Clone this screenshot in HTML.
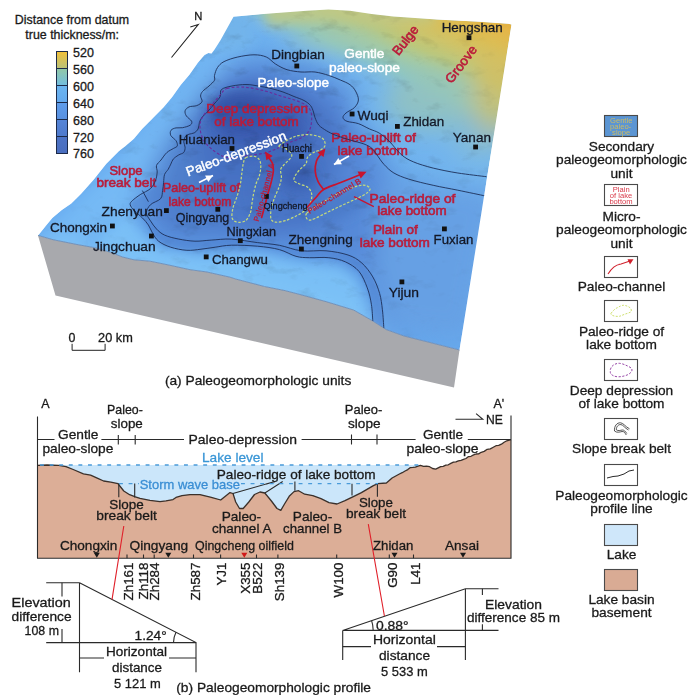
<!DOCTYPE html>
<html><head><meta charset="utf-8">
<style>
html,body{margin:0;padding:0;background:#fff;}
body{width:692px;height:698px;overflow:hidden;position:relative;}
svg{position:absolute;left:0;top:0;}
text{font-family:"Liberation Sans",sans-serif;stroke-width:0.3px;}
</style></head><body>
<svg width="692" height="698" viewBox="0 0 692 698">
<defs>
<linearGradient id="cb1" x1="0" y1="0" x2="0" y2="1"><stop offset="0" stop-color="#f2c13a"/><stop offset="1" stop-color="#b9c27a"/></linearGradient>
<linearGradient id="cb2" x1="0" y1="0" x2="0" y2="1"><stop offset="0" stop-color="#93c8a6"/><stop offset="1" stop-color="#72bde0"/></linearGradient>
<linearGradient id="cb3" x1="0" y1="0" x2="0" y2="1"><stop offset="0" stop-color="#6cb5f0"/><stop offset="1" stop-color="#64a9ee"/></linearGradient>
<linearGradient id="cb4" x1="0" y1="0" x2="0" y2="1"><stop offset="0" stop-color="#5f9deb"/><stop offset="1" stop-color="#5890e0"/></linearGradient>
<linearGradient id="cb5" x1="0" y1="0" x2="0" y2="1"><stop offset="0" stop-color="#5585d8"/><stop offset="1" stop-color="#4f7acc"/></linearGradient>
<linearGradient id="cb6" x1="0" y1="0" x2="0" y2="1"><stop offset="0" stop-color="#4d74c6"/><stop offset="1" stop-color="#4a6ebf"/></linearGradient>
</defs>

<!-- ===== top-left legend ===== -->
<g font-size="12.4" fill="#1a1a1a" stroke="#1a1a1a" text-anchor="middle">
<text x="72" y="24">Distance from datum</text>
<text x="72.2" y="39.4">true thickness/m:</text>
</g>
<g>
<rect x="56.5" y="51.5" width="11" height="17" fill="url(#cb1)"/>
<rect x="56.5" y="68.5" width="11" height="17" fill="url(#cb2)"/>
<rect x="56.5" y="85.5" width="11" height="17" fill="url(#cb3)"/>
<rect x="56.5" y="102.5" width="11" height="17" fill="url(#cb4)"/>
<rect x="56.5" y="119.5" width="11" height="17" fill="url(#cb5)"/>
<rect x="56.5" y="136.5" width="11" height="17" fill="url(#cb6)"/>
<g stroke="#1c2a48" stroke-width="1" fill="none">
<rect x="56.5" y="51.5" width="11" height="102"/>
<path d="M56.5 68.5h11M56.5 85.5h11M56.5 102.5h11M56.5 119.5h11M56.5 136.5h11"/>
</g>
</g>
<g font-size="12.5" fill="#1a1a1a" stroke="#1a1a1a">
<text x="73" y="56.6">520</text>
<text x="73" y="73.6">560</text>
<text x="73" y="90.6">600</text>
<text x="73" y="107.6">640</text>
<text x="73" y="124.6">680</text>
<text x="73" y="141.6">720</text>
<text x="73" y="158.4">760</text>
</g>

<!-- MAP -->
<g id="map">
<defs>
<clipPath id="tclip"><path d="M233.5 16.8 L263.3 13.9 L306.7 10.8 L328.4 9.6 L350.0 10.8 L371.7 13.9 L393.4 16.5 L436.7 19.5 L480.0 21.7 L508.3 23.8 L511.5 24.6 L459.5 350.0 L430.0 342.5 L404.0 336.0 L386.0 329.5 L383.8 328.0 L372.8 321.0 L353.6 310.0 L326.0 301.6 L300.0 294.5 L285.0 290.6 L264.5 286.5 L235.6 279.0 L230.0 277.2 L207.0 272.0 L190.0 269.7 L168.7 265.0 L150.0 261.2 L134.0 259.8 L122.5 257.0 L111.0 252.4 L94.7 247.7 L76.0 244.3 L53.0 239.7 L38.0 235.4 L39.5 233.8 L45.9 225.8 L52.3 217.9 L61.8 210.0 L71.3 203.6 L80.9 194.0 L93.6 179.7 L106.3 163.8 L119.0 151.1 L125.5 146.0 L133.9 138.8 L142.5 128.4 L153.0 118.0 L163.4 107.6 L172.0 97.2 L180.7 85.1 L189.4 74.7 L198.0 62.5 L204.5 55.0 L208.4 53.0 L211.5 53.6 L214.5 49.5 L220.6 40.0Z"/></clipPath>
<filter id="b12" x="-50%" y="-50%" width="200%" height="200%"><feGaussianBlur stdDeviation="12"/></filter>
<filter id="b6" x="-50%" y="-50%" width="200%" height="200%"><feGaussianBlur stdDeviation="6"/></filter>
<filter id="b3" x="-50%" y="-50%" width="200%" height="200%"><feGaussianBlur stdDeviation="3"/></filter>
<filter id="b1" x="-50%" y="-50%" width="200%" height="200%"><feGaussianBlur stdDeviation="1.2"/></filter>
<filter id="noise" x="0" y="0" width="100%" height="100%"><feTurbulence type="fractalNoise" baseFrequency="0.05 0.09" numOctaves="4" seed="7"/><feColorMatrix type="matrix" values="0.9 0 0 0 0.6  0.9 0 0 0 0.6  0.9 0 0 0 0.6  0 0 0 0 1"/></filter>
<radialGradient id="nmg" gradientUnits="userSpaceOnUse" cx="290" cy="130" r="240"><stop offset="0" stop-color="#fff"/><stop offset="0.55" stop-color="#bbb"/><stop offset="1" stop-color="#333"/></radialGradient>
<mask id="nmask" maskUnits="userSpaceOnUse" x="0" y="0" width="692" height="400"><rect x="0" y="0" width="692" height="400" fill="url(#nmg)"/></mask>
</defs>
<path d="M38.0 235.4 L38.0 235.4 L53.0 239.7 L76.0 244.3 L94.7 247.7 L111.0 252.4 L122.5 257.0 L134.0 259.8 L150.0 261.2 L168.7 265.0 L190.0 269.7 L207.0 272.0 L230.0 277.2 L235.6 279.0 L264.5 286.5 L285.0 290.6 L300.0 294.5 L326.0 301.6 L353.6 310.0 L372.8 321.0 L383.8 328.0 L386.0 329.5 L404.0 336.0 L430.0 342.5 L459.5 350.0 L454.0 387.5 L55.5 295.5Z" fill="#a8a9ad"/>
<defs><linearGradient id="tg" gradientUnits="userSpaceOnUse" x1="250" y1="250" x2="500" y2="0"><stop offset="0" stop-color="#62a4ec"/><stop offset="0.35" stop-color="#6aaeef"/><stop offset="0.6" stop-color="#74b6ee"/><stop offset="1" stop-color="#7cbce8"/></linearGradient><linearGradient id="yg" gradientUnits="userSpaceOnUse" x1="452" y1="122" x2="505.3" y2="3.7"><stop offset="0" stop-color="#7cbae4" stop-opacity="0"/><stop offset="0.077" stop-color="#80bce0" stop-opacity="0.6"/><stop offset="0.177" stop-color="#8cc6c8"/><stop offset="0.308" stop-color="#a4caa4"/><stop offset="0.415" stop-color="#bcc87c"/><stop offset="0.538" stop-color="#cec46a"/><stop offset="0.677" stop-color="#dcbe54"/><stop offset="0.869" stop-color="#e8b444"/><stop offset="1" stop-color="#ecae3c"/></linearGradient></defs>
<g clip-path="url(#tclip)">
<path d="M233.5 16.8 L263.3 13.9 L306.7 10.8 L328.4 9.6 L350.0 10.8 L371.7 13.9 L393.4 16.5 L436.7 19.5 L480.0 21.7 L508.3 23.8 L511.5 24.6 L459.5 350.0 L430.0 342.5 L404.0 336.0 L386.0 329.5 L383.8 328.0 L372.8 321.0 L353.6 310.0 L326.0 301.6 L300.0 294.5 L285.0 290.6 L264.5 286.5 L235.6 279.0 L230.0 277.2 L207.0 272.0 L190.0 269.7 L168.7 265.0 L150.0 261.2 L134.0 259.8 L122.5 257.0 L111.0 252.4 L94.7 247.7 L76.0 244.3 L53.0 239.7 L38.0 235.4 L39.5 233.8 L45.9 225.8 L52.3 217.9 L61.8 210.0 L71.3 203.6 L80.9 194.0 L93.6 179.7 L106.3 163.8 L119.0 151.1 L125.5 146.0 L133.9 138.8 L142.5 128.4 L153.0 118.0 L163.4 107.6 L172.0 97.2 L180.7 85.1 L189.4 74.7 L198.0 62.5 L204.5 55.0 L208.4 53.0 L211.5 53.6 L214.5 49.5 L220.6 40.0Z" fill="url(#tg)"/>
<path d="M233.5 16.8 L263.3 13.9 L306.7 10.8 L328.4 9.6 L350.0 10.8 L371.7 13.9 L393.4 16.5 L436.7 19.5 L480.0 21.7 L508.3 23.8 L511.5 24.6 L459.5 350.0 L430.0 342.5 L404.0 336.0 L386.0 329.5 L383.8 328.0 L372.8 321.0 L353.6 310.0 L326.0 301.6 L300.0 294.5 L285.0 290.6 L264.5 286.5 L235.6 279.0 L230.0 277.2 L207.0 272.0 L190.0 269.7 L168.7 265.0 L150.0 261.2 L134.0 259.8 L122.5 257.0 L111.0 252.4 L94.7 247.7 L76.0 244.3 L53.0 239.7 L38.0 235.4 L39.5 233.8 L45.9 225.8 L52.3 217.9 L61.8 210.0 L71.3 203.6 L80.9 194.0 L93.6 179.7 L106.3 163.8 L119.0 151.1 L125.5 146.0 L133.9 138.8 L142.5 128.4 L153.0 118.0 L163.4 107.6 L172.0 97.2 L180.7 85.1 L189.4 74.7 L198.0 62.5 L204.5 55.0 L208.4 53.0 L211.5 53.6 L214.5 49.5 L220.6 40.0Z" fill="url(#yg)"/>
<g filter="url(#b12)">
<path d="M20 250 L110 160 L190 70 L230 20 L250 40 L210 100 L170 160 L140 220 L60 250Z" fill="#78bcf6" opacity="0.9"/>
<ellipse cx="432" cy="100" rx="48" ry="30" fill="#98c4b6" opacity="0.75"/>
<ellipse cx="494" cy="92" rx="22" ry="45" fill="#d4bc60" opacity="0.7"/>
<ellipse cx="480" cy="140" rx="25" ry="14" fill="#96c2bc" opacity="0.6"/>
<ellipse cx="340" cy="36" rx="50" ry="10" fill="#a4c8a8" opacity="0.7"/>
<path d="M40 238 L140 256 L240 276 L330 298 L375 318 L380 345 L40 300Z" fill="#82c6f8"/>
<path d="M135 205 L160 150 L200 95 L230 60 L270 58 L320 74 L355 90 L350 118 L375 140 L390 175 L480 195 L470 340 L380 330 L365 275 L330 258 L240 246 L160 246Z" fill="#5689d8"/>
<path d="M380 180 L500 190 L470 340 L390 330 L375 260Z" fill="#66a0e4"/>
<path d="M170 150 L205 100 L250 82 L300 90 L335 110 L350 140 L335 175 L330 225 L280 235 L210 230 L160 215Z" fill="#4874c6"/>
<ellipse cx="258" cy="118" rx="52" ry="32" fill="#3a5ab0"/>
<ellipse cx="235" cy="165" rx="45" ry="18" fill="#4470c2"/>
<ellipse cx="300" cy="185" rx="28" ry="30" fill="#4672c4"/>
<ellipse cx="195" cy="218" rx="32" ry="18" fill="#4e7ecc"/>
<ellipse cx="185" cy="175" rx="14" ry="30" fill="#5080cc"/>
</g>
<g filter="url(#b6)">
<path d="M262 4 L330 0 L400 6 L440 12 L432 24 L380 24 L330 21 L290 24 L268 26Z" fill="#bec886" opacity="0.85"/>
<path d="M100 238 L125 215 L140 228 L160 250 L200 256 L260 252 L300 262 L340 266 L356 278 L364 300 L368 330 L300 300 L200 280 L100 258Z" fill="#7ec4f8" opacity="0.8"/>
<ellipse cx="240" cy="112" rx="30" ry="18" fill="#3454a8"/>
<ellipse cx="288" cy="135" rx="15" ry="11" fill="#3a5cb0"/>
<ellipse cx="300" cy="72" rx="25" ry="8" fill="#5a92dc" opacity="0.6"/>
<ellipse cx="232" cy="32" rx="22" ry="18" fill="#72b4ea"/>
<ellipse cx="298" cy="176" rx="18" ry="14" fill="#3a60b2"/>
<ellipse cx="278" cy="162" rx="10" ry="12" fill="#4068b8"/>
<ellipse cx="262" cy="190" rx="9" ry="22" fill="#4470c0"/>
<ellipse cx="340" cy="205" rx="30" ry="12" fill="#4c7cca" transform="rotate(-25 340 205)"/>
</g>
<rect x="30" y="0" width="490" height="360" filter="url(#noise)" style="mix-blend-mode:multiply" opacity="0.9" mask="url(#nmask)"/>
</g>
<path d="M459.5 350.0 L430.0 342.5 L404.0 336.0 L386.0 329.5 L383.8 328.0 L372.8 321.0 L353.6 310.0 L326.0 301.6 L300.0 294.5 L285.0 290.6 L264.5 286.5 L235.6 279.0 L230.0 277.2 L207.0 272.0 L190.0 269.7 L168.7 265.0 L150.0 261.2 L134.0 259.8 L122.5 257.0 L111.0 252.4 L94.7 247.7 L76.0 244.3 L53.0 239.7 L38.0 235.4" fill="none" stroke="#6a8ab4" stroke-width="0.9"/>
<text x="206.2" y="113.0" font-size="13.4" fill="#ba1c3a" stroke="#ba1c3a" style="stroke-width:0.60px" textLength="101.7" lengthAdjust="spacingAndGlyphs">Deep depression</text>
<text x="214.3" y="126.1" font-size="13.4" fill="#ba1c3a" stroke="#ba1c3a" style="stroke-width:0.60px" textLength="84.4" lengthAdjust="spacingAndGlyphs">of lake bottom</text>
<text x="109.4" y="175.1" font-size="13.4" fill="#ba1c3a" stroke="#ba1c3a" style="stroke-width:0.60px" textLength="33.2" lengthAdjust="spacingAndGlyphs">Slope</text>
<text x="96.4" y="187.1" font-size="13.4" fill="#ba1c3a" stroke="#ba1c3a" style="stroke-width:0.60px" textLength="59.8" lengthAdjust="spacingAndGlyphs">break belt</text>
<text x="162.8" y="191.5" font-size="13.4" fill="#ba1c3a" stroke="#ba1c3a" style="stroke-width:0.60px" textLength="77.2" lengthAdjust="spacingAndGlyphs">Paleo-uplift of</text>
<text x="168.6" y="205.9" font-size="13.4" fill="#ba1c3a" stroke="#ba1c3a" style="stroke-width:0.60px" textLength="62.7" lengthAdjust="spacingAndGlyphs">lake bottom</text>
<text x="331.2" y="142.1" font-size="13.4" fill="#ba1c3a" stroke="#ba1c3a" style="stroke-width:0.60px" textLength="84.8" lengthAdjust="spacingAndGlyphs">Paleo-uplift of</text>
<text x="337.4" y="155.1" font-size="13.4" fill="#ba1c3a" stroke="#ba1c3a" style="stroke-width:0.60px" textLength="70.6" lengthAdjust="spacingAndGlyphs">lake bottom</text>
<text x="369.6" y="202.6" font-size="13.4" fill="#ba1c3a" stroke="#ba1c3a" style="stroke-width:0.60px" textLength="85.8" lengthAdjust="spacingAndGlyphs">Paleo-ridge of</text>
<text x="377.3" y="215.3" font-size="13.4" fill="#ba1c3a" stroke="#ba1c3a" style="stroke-width:0.60px" textLength="69.4" lengthAdjust="spacingAndGlyphs">lake bottom</text>
<text x="372.9" y="233.9" font-size="13.4" fill="#ba1c3a" stroke="#ba1c3a" style="stroke-width:0.60px" textLength="44.9" lengthAdjust="spacingAndGlyphs">Plain of</text>
<text x="359.7" y="247.3" font-size="13.4" fill="#ba1c3a" stroke="#ba1c3a" style="stroke-width:0.60px" textLength="70.2" lengthAdjust="spacingAndGlyphs">lake bottom</text>
<text transform="translate(405.2 40.2) rotate(-51.8) translate(0 4.7)" font-size="13.2" fill="#ba1c3a" stroke="#ba1c3a" style="stroke-width:0.60px" text-anchor="middle">Bulge</text>
<text transform="translate(460.9 64.1) rotate(-52.9) translate(0 4.7)" font-size="13.2" fill="#ba1c3a" stroke="#ba1c3a" style="stroke-width:0.60px" text-anchor="middle">Groove</text>
<g clip-path="url(#tclip)">
<path d="M372.8 321.0 L371.4 304.3 L367.3 287.9 L359.0 271.4 L345.3 261.8 L328.8 257.7 L309.6 257.7 L296.0 256.3 L279.4 249.6 L257.5 246.2 L231.4 245.2 L215.2 247.2 L201.0 249.2 L186.9 250.3 L170.7 247.2 L158.6 241.2 L152.5 233.0 L148.4 225.0 L142.4 217.9 L134.3 210.8 L130.2 204.7 L132.3 200.7 L163.6 182.5 L162.6 190.6 L160.6 198.7 L150.5 204.7 L146.4 212.8 L150.5 220.9 L156.5 229.0 L164.6 235.1 L178.8 239.1 L195.0 241.2 L211.2 240.1 L231.4 239.1 L257.5 242.6 L279.4 245.3 L301.4 250.8 L326.0 250.8 L348.0 255.0 L361.8 263.0 L372.8 276.9 L379.6 293.4 L382.4 309.8 L383.8 328.0Z" fill="#4f82d0" opacity="0.55" filter="url(#b1)"/>
<path d="M372.8 321.0 C372.6 318.2,372.3 309.8,371.4 304.3 C370.5 298.8,369.4 293.4,367.3 287.9 C365.2 282.4,362.7 275.8,359.0 271.4 C355.3 267.0,350.3 264.1,345.3 261.8 C340.3 259.5,334.8 258.4,328.8 257.7 C322.9 257.0,315.1 257.9,309.6 257.7 C304.1 257.5,301.0 257.7,296.0 256.3 C291.0 255.0,285.8 251.3,279.4 249.6 C273.0 247.9,265.5 246.9,257.5 246.2 C249.5 245.5,238.5 245.0,231.4 245.2 C224.3 245.4,220.3 246.5,215.2 247.2 C210.1 247.9,205.7 248.7,201.0 249.2 C196.3 249.7,192.0 250.6,186.9 250.3 C181.8 250.0,175.4 248.7,170.7 247.2 C166.0 245.7,161.6 243.6,158.6 241.2 C155.6 238.8,154.2 235.7,152.5 233.0 C150.8 230.3,150.1 227.5,148.4 225.0 C146.7 222.5,144.8 220.3,142.4 217.9 C140.1 215.5,136.3 213.0,134.3 210.8 C132.3 208.6,130.5 206.4,130.2 204.7 C129.9 203.0,130.6 202.4,132.3 200.7 C134.0 199.0,137.3 196.6,140.3 194.6 C143.3 192.6,148.0 190.9,150.5 188.6 C153.0 186.2,154.4 183.3,155.5 180.5 C156.6 177.7,157.0 174.5,157.2 172.0 C157.4 169.5,155.9 167.5,156.5 165.5 C157.1 163.5,159.3 162.2,161.0 160.0 C162.7 157.8,164.8 154.4,166.9 152.5 C169.0 150.6,171.7 149.6,173.4 148.5 C175.1 147.4,176.9 147.2,177.3 145.9 C177.7 144.6,177.1 142.4,176.0 140.7 C174.9 139.0,171.6 137.2,170.8 135.5 C170.0 133.8,170.1 131.6,171.0 130.3 C171.9 129.0,174.1 128.3,176.0 127.9 C177.9 127.5,180.1 128.2,182.5 127.7 C184.9 127.2,188.8 126.2,190.3 125.1 C191.8 124.0,192.2 122.7,191.6 121.2 C190.9 119.7,187.5 117.7,186.4 116.0 C185.3 114.3,184.7 112.3,185.1 110.8 C185.5 109.3,187.1 107.8,189.0 106.9 C190.9 106.0,194.6 106.5,196.8 105.6 C199.0 104.7,201.4 103.3,202.0 101.7 C202.6 100.1,200.5 97.7,200.6 96.0 C200.7 94.3,201.1 93.2,202.5 91.5 C203.9 89.8,207.0 87.9,209.0 86.0 C211.0 84.1,213.6 82.0,214.5 80.3 C215.4 78.5,214.0 77.6,214.5 75.5 C215.0 73.4,215.9 69.8,217.5 67.5 C219.1 65.2,220.6 63.4,224.0 61.6 C227.4 59.9,232.8 58.1,237.8 57.0 C242.8 55.9,249.2 54.8,254.0 54.8 C258.8 54.8,262.7 55.5,266.3 57.0 C269.9 58.5,272.1 61.9,275.5 64.0 C278.9 66.1,282.8 68.4,287.0 69.7 C291.2 71.0,296.3 71.6,301.0 72.0 C305.7 72.4,310.4 71.4,315.0 72.0 C319.6 72.6,324.5 74.1,328.7 75.4 C332.9 76.7,336.8 78.5,340.3 80.0 C343.9 81.5,347.5 82.9,350.0 84.7 C352.5 86.5,354.1 88.5,355.5 91.0 C356.9 93.5,358.6 97.2,358.4 100.0 C358.2 102.8,356.6 105.3,354.5 107.5 C352.4 109.7,347.9 111.3,346.0 113.0 C344.1 114.7,342.8 116.2,343.0 117.6 C343.2 119.0,344.4 120.3,347.0 121.3 C349.6 122.3,354.5 122.3,358.3 123.6 C362.1 124.9,366.1 127.4,369.6 129.0 C373.1 130.6,375.9 131.0,379.1 133.0 C382.3 135.0,385.3 137.4,389.0 141.0 C392.7 144.6,397.2 151.1,401.3 154.6 C405.4 158.1,408.2 159.7,413.5 161.9 C418.8 164.2,425.8 166.2,433.2 168.1 C440.6 169.9,448.9 171.6,457.8 173.0 C466.7 174.4,481.7 176.1,486.5 176.7" fill="none" stroke="#1d2f58" stroke-width="0.9"/>
<path d="M383.8 328.0 C383.6 325.0,383.1 315.6,382.4 309.8 C381.7 304.0,381.2 298.9,379.6 293.4 C378.0 287.9,375.8 282.0,372.8 276.9 C369.8 271.8,365.9 266.6,361.8 263.0 C357.7 259.4,354.0 257.0,348.0 255.0 C342.0 253.0,333.8 251.5,326.0 250.8 C318.2 250.1,309.2 251.7,301.4 250.8 C293.6 249.9,286.7 246.7,279.4 245.3 C272.1 243.9,265.5 243.6,257.5 242.6 C249.5 241.6,239.1 239.5,231.4 239.1 C223.7 238.7,217.3 239.8,211.2 240.1 C205.1 240.4,200.4 241.4,195.0 241.2 C189.6 241.0,183.9 240.1,178.8 239.1 C173.7 238.1,168.3 236.8,164.6 235.1 C160.9 233.4,158.8 231.4,156.5 229.0 C154.2 226.6,152.2 223.6,150.5 220.9 C148.8 218.2,146.4 215.5,146.4 212.8 C146.4 210.1,148.1 207.0,150.5 204.7 C152.9 202.3,158.6 201.0,160.6 198.7 C162.6 196.3,162.1 193.3,162.6 190.6 C163.1 187.9,163.3 185.2,163.6 182.5 C163.9 179.8,163.8 176.6,164.6 174.4 C165.4 172.2,167.2 171.0,168.2 169.3 C169.2 167.6,169.9 165.8,170.8 164.1 C171.7 162.4,172.1 160.4,173.4 158.9 C174.7 157.4,176.9 156.1,178.6 155.0 C180.3 153.9,182.7 153.7,183.8 152.4 C184.9 151.1,185.1 148.9,185.1 147.2 C185.1 145.5,183.8 143.7,183.8 142.0 C183.8 140.3,184.2 138.1,185.1 136.8 C186.0 135.5,187.5 134.8,189.0 134.2 C190.5 133.5,192.7 133.8,194.2 132.9 C195.7 132.0,197.2 130.7,198.1 129.0 C199.0 127.3,198.8 124.5,199.4 122.5 C200.1 120.5,200.7 119.0,202.0 117.3 C203.3 115.6,205.0 114.5,207.2 112.1 C209.4 109.7,212.8 105.6,215.0 103.0 C217.2 100.4,219.1 98.8,220.2 96.5 C221.3 94.2,219.5 91.2,221.5 89.5 C223.5 87.8,227.9 86.8,232.0 86.0 C236.1 85.2,241.7 84.5,246.0 84.5 C250.3 84.5,253.8 85.3,258.0 86.0 C262.2 86.7,266.8 87.5,271.0 88.5 C275.2 89.5,279.2 90.7,283.0 92.0 C286.8 93.3,290.5 95.1,294.0 96.5 C297.5 97.9,301.2 99.0,304.0 100.5 C306.8 102.0,308.9 103.6,310.5 105.5 C312.1 107.4,312.8 110.0,313.5 112.0 C314.2 114.0,314.1 115.4,315.0 117.6 C315.9 119.8,316.9 122.9,318.8 125.1 C320.7 127.3,323.7 129.0,326.4 130.7 C329.1 132.3,331.1 133.4,335.0 135.0 C338.9 136.6,345.2 138.5,350.0 140.0 C354.8 141.5,360.3 142.6,364.0 144.0 C367.7 145.4,369.9 146.7,372.0 148.5 C374.1 150.3,374.7 151.9,376.7 154.6 C378.7 157.2,381.1 161.3,384.0 164.4 C386.9 167.5,389.8 170.6,393.9 173.0 C398.0 175.4,402.1 177.0,408.6 179.1 C415.2 181.2,425.0 183.5,433.2 185.3 C441.4 187.2,449.1 188.4,457.8 190.2 C466.5 192.0,480.9 195.0,485.5 196.0" fill="none" stroke="#1d2f58" stroke-width="0.9"/>
</g>
<path d="M354 196.6L373.8 206.6" stroke="#c8142e" stroke-width="1.2"/>
<path d="M142.4 190.6L148.4 201.7" stroke="#1d2f58" stroke-width="0.9"/>
<path d="M227.0 88.5 C231.1 87.2,238.7 86.8,245.0 87.2 C251.3 87.6,259.3 89.6,265.0 91.0 C270.7 92.4,274.3 94.1,279.0 95.5 C283.7 96.9,288.6 98.0,293.0 99.5 C297.4 101.0,302.5 102.7,305.5 104.8 C308.5 106.9,310.0 109.2,311.0 112.0 C312.0 114.8,311.8 118.5,311.5 121.7 C311.2 124.9,310.8 128.3,309.0 131.0 C307.2 133.7,304.3 136.0,301.0 137.9 C297.7 139.8,293.2 140.8,289.4 142.5 C285.6 144.2,282.1 146.2,278.0 148.0 C273.9 149.8,270.0 151.8,265.0 153.0 C260.0 154.2,253.3 154.7,248.0 155.5 C242.7 156.3,237.2 157.9,233.0 158.0 C228.8 158.1,226.4 157.8,222.8 156.3 C219.2 154.8,214.8 151.7,211.6 149.0 C208.4 146.3,205.4 143.6,203.5 140.0 C201.6 136.4,200.2 131.4,200.0 127.7 C199.8 124.0,200.2 121.6,202.0 118.0 C203.8 114.4,208.0 109.8,211.0 106.0 C214.0 102.2,217.5 97.9,220.2 95.0 C222.9 92.1,222.9 89.8,227.0 88.5Z" fill="none" stroke="#6a2c9a" stroke-width="1.1" stroke-dasharray="2.8 2"/>
<path d="M245.7 157.8 C247.4 156.6,251.3 155.9,253.6 156.2 C255.8 156.5,258.0 157.7,259.2 159.4 C260.4 161.1,260.8 163.8,260.8 166.6 C260.8 169.4,260.0 173.2,259.2 176.1 C258.4 179.0,256.9 181.1,256.0 184.0 C255.1 186.9,254.3 190.4,253.6 193.6 C252.9 196.8,252.5 199.9,252.0 203.1 C251.5 206.3,251.5 209.8,250.4 212.7 C249.3 215.6,247.8 219.0,245.7 220.6 C243.6 222.2,239.9 222.6,237.7 222.2 C235.4 221.8,233.0 220.6,232.2 218.2 C231.4 215.8,232.2 211.5,233.0 207.9 C233.8 204.3,235.7 200.5,236.9 196.8 C238.1 193.1,239.3 189.3,240.1 185.6 C240.9 181.9,241.2 178.2,241.7 174.5 C242.2 170.8,242.6 166.2,243.3 163.4 C244.0 160.6,244.0 159.0,245.7 157.8Z" fill="none" stroke="#c6dc7a" stroke-width="1.2" stroke-dasharray="2.6 1.6"/>
<path d="M279.0 145.9 C279.8 144.6,285.4 141.2,288.6 139.5 C291.8 137.8,294.4 136.4,298.1 135.6 C301.8 134.8,306.9 134.4,310.9 134.8 C314.9 135.2,319.6 136.4,322.0 138.0 C324.4 139.6,325.2 142.5,325.2 144.3 C325.2 146.2,323.9 147.8,322.0 149.1 C320.1 150.4,316.4 151.0,314.0 152.3 C311.6 153.6,309.0 155.2,307.7 157.0 C306.4 158.8,307.4 161.3,306.1 163.4 C304.8 165.5,301.6 167.6,299.7 169.7 C297.8 171.8,295.9 174.2,295.0 176.1 C294.1 178.0,293.4 179.6,294.2 180.9 C295.0 182.2,297.4 182.9,299.7 184.0 C301.9 185.1,305.7 185.6,307.7 187.2 C309.7 188.8,311.1 191.2,311.6 193.6 C312.1 196.0,311.8 198.8,310.9 201.5 C310.0 204.2,308.5 207.1,306.1 209.5 C303.7 211.9,299.9 214.0,296.5 215.8 C293.1 217.7,288.8 219.5,285.4 220.6 C282.0 221.7,278.3 222.5,275.9 222.2 C273.5 221.9,271.9 221.1,271.1 219.0 C270.3 216.9,270.6 212.9,271.1 209.5 C271.6 206.1,273.0 202.1,274.3 198.4 C275.6 194.7,277.8 190.6,279.0 187.2 C280.2 183.8,281.1 180.6,281.4 177.7 C281.7 174.8,280.2 171.8,280.6 169.7 C281.0 167.6,282.5 166.6,283.8 165.0 C285.1 163.4,287.3 161.8,288.6 160.2 C289.9 158.6,291.8 157.0,291.8 155.4 C291.8 153.8,289.9 152.0,288.6 150.7 C287.3 149.4,285.4 148.3,283.8 147.5 C282.2 146.7,278.2 147.2,279.0 145.9Z" fill="none" stroke="#c6dc7a" stroke-width="1.2" stroke-dasharray="2.6 1.6"/>
<path d="M307.0 213.0 C308.5 211.4,312.0 209.0,315.0 207.0 C318.0 205.0,320.7 203.5,325.0 201.0 C329.3 198.5,335.5 194.5,341.0 192.0 C346.5 189.5,353.8 187.1,358.0 186.0 C362.2 184.9,364.0 184.9,366.0 185.5 C368.0 186.1,370.5 187.8,370.0 189.5 C369.5 191.2,367.0 193.2,363.0 195.5 C359.0 197.8,351.7 200.8,346.0 203.5 C340.3 206.2,334.2 209.0,329.0 211.5 C323.8 214.0,318.4 217.1,315.0 218.5 C311.6 219.9,310.0 220.3,308.5 220.0 C307.0 219.7,306.2 217.7,306.0 216.5 C305.8 215.3,305.5 214.6,307.0 213.0Z" fill="none" stroke="#c6dc7a" stroke-width="1.2" stroke-dasharray="2.6 1.6"/>
<g stroke="#c8142e" stroke-width="1.7" fill="none" stroke-linecap="round">
<path d="M261.6 217.4 C262.1 215.6,263.6 210.3,264.7 206.3 C265.8 202.3,266.8 197.6,267.9 193.6 C269.0 189.6,270.2 186.2,271.1 182.5 C272.0 178.8,273.1 174.5,273.3 171.3 C273.5 168.1,273.2 165.6,272.5 163.4 C271.8 161.2,269.6 158.9,269.0 158.0"/>
<path d="M307.5 207.0 C308.9 205.4,313.3 200.4,316.0 197.5 C318.7 194.6,319.8 191.8,323.5 189.5 C327.2 187.2,333.2 185.4,338.0 183.5 C342.8 181.6,348.2 179.5,352.0 178.0 C355.8 176.5,359.1 175.1,360.5 174.5"/>
<path d="M323.5 189.5 C322.6 188.2,319.4 184.6,318.0 181.5 C316.6 178.4,315.4 174.4,315.2 171.0 C314.9 167.6,315.6 163.8,316.5 161.0 C317.4 158.2,319.8 155.6,320.5 154.5"/>
</g>
<path d="M265.0 151.5 L272.7 155.9 L266.4 160.2 Z" fill="#c8142e"/>
<path d="M366.5 171.8 L360.7 178.5 L357.6 171.5 Z" fill="#c8142e"/>
<path d="M325.5 148.5 L323.5 157.1 L317.5 152.4 Z" fill="#c8142e"/>
<path d="M199.0 182.5 L213.0 175.5" stroke="#fff" stroke-width="1.7"/><path d="M213.0 175.5 L208.3 181.9 L205.1 175.4 Z" fill="#fff"/>
<path d="M349.0 156.0 L334.0 164.5" stroke="#fff" stroke-width="1.7"/><path d="M334.0 164.5 L338.3 157.9 L341.9 164.2 Z" fill="#fff"/>
<rect x="294.4" y="63.6" width="4.8" height="4.8" fill="#111"/>
<rect x="466.6" y="35.3" width="4.8" height="4.8" fill="#111"/>
<rect x="349.7" y="111.6" width="4.8" height="4.8" fill="#111"/>
<rect x="395.0" y="124.0" width="4.8" height="4.8" fill="#111"/>
<rect x="473.2" y="144.6" width="4.8" height="4.8" fill="#111"/>
<rect x="229.6" y="146.1" width="4.8" height="4.8" fill="#111"/>
<rect x="164.0" y="208.2" width="4.8" height="4.8" fill="#111"/>
<rect x="110.0" y="223.6" width="4.8" height="4.8" fill="#111"/>
<rect x="149.0" y="233.6" width="4.8" height="4.8" fill="#111"/>
<rect x="215.4" y="206.9" width="4.8" height="4.8" fill="#111"/>
<rect x="237.9" y="238.3" width="4.8" height="4.8" fill="#111"/>
<rect x="299.0" y="246.6" width="4.8" height="4.8" fill="#111"/>
<rect x="203.8" y="254.5" width="4.8" height="4.8" fill="#111"/>
<rect x="399.5" y="279.5" width="4.8" height="4.8" fill="#111"/>
<rect x="299.1" y="154.0" width="4.8" height="4.8" fill="#111"/>
<rect x="264.0" y="194.0" width="4.8" height="4.8" fill="#111"/>
<rect x="442.0" y="226.5" width="4.8" height="4.8" fill="#111"/>
<text x="271.2" y="59.2" font-size="13.4" fill="#141826" stroke="#141826" textLength="53.6" lengthAdjust="spacingAndGlyphs">Dingbian</text>
<text x="441.7" y="31.8" font-size="13.4" fill="#141826" stroke="#141826" textLength="61.1" lengthAdjust="spacingAndGlyphs">Hengshan</text>
<text x="357.5" y="119.7" font-size="13.4" fill="#141826" stroke="#141826" textLength="31.0" lengthAdjust="spacingAndGlyphs">Wuqi</text>
<text x="403.2" y="126.2" font-size="13.4" fill="#141826" stroke="#141826" textLength="41.0" lengthAdjust="spacingAndGlyphs">Zhidan</text>
<text x="452.8" y="142.0" font-size="13.4" fill="#141826" stroke="#141826" textLength="38.2" lengthAdjust="spacingAndGlyphs">Yanan</text>
<text x="178.7" y="144.4" font-size="13.4" fill="#141826" stroke="#141826" textLength="56.3" lengthAdjust="spacingAndGlyphs">Huanxian</text>
<text x="101.6" y="216.1" font-size="13.4" fill="#141826" stroke="#141826" textLength="61.2" lengthAdjust="spacingAndGlyphs">Zhenyuan</text>
<text x="50.0" y="231.7" font-size="13.4" fill="#141826" stroke="#141826" textLength="57.0" lengthAdjust="spacingAndGlyphs">Chongxin</text>
<text x="92.9" y="250.7" font-size="13.4" fill="#141826" stroke="#141826" textLength="62.7" lengthAdjust="spacingAndGlyphs">Jingchuan</text>
<text x="175.8" y="221.7" font-size="13.4" fill="#141826" stroke="#141826" textLength="53.5" lengthAdjust="spacingAndGlyphs">Qingyang</text>
<text x="226.6" y="235.6" font-size="13.4" fill="#141826" stroke="#141826" textLength="49.5" lengthAdjust="spacingAndGlyphs">Ningxian</text>
<text x="288.5" y="244.0" font-size="13.4" fill="#141826" stroke="#141826" textLength="64.2" lengthAdjust="spacingAndGlyphs">Zhengning</text>
<text x="211.9" y="263.9" font-size="13.4" fill="#141826" stroke="#141826" textLength="56.0" lengthAdjust="spacingAndGlyphs">Changwu</text>
<text x="433.6" y="243.7" font-size="13.4" fill="#141826" stroke="#141826" textLength="39.8" lengthAdjust="spacingAndGlyphs">Fuxian</text>
<text x="388.7" y="297.0" font-size="13.4" fill="#141826" stroke="#141826" textLength="30.3" lengthAdjust="spacingAndGlyphs">Yijun</text>
<text x="282.0" y="152.3" font-size="10.0" fill="#141826" stroke="#141826" textLength="30.0" lengthAdjust="spacingAndGlyphs">Huachi</text>
<text x="263.5" y="208.7" font-size="9.6" fill="#141826" stroke="#141826" textLength="44.0" lengthAdjust="spacingAndGlyphs">Qingcheng</text>
<text x="344.3" y="58.2" font-size="13.4" fill="#ffffff" stroke="#ffffff" style="stroke-width:0.45px" textLength="40.1" lengthAdjust="spacingAndGlyphs">Gentle</text>
<text x="329.0" y="71.7" font-size="13.4" fill="#ffffff" stroke="#ffffff" style="stroke-width:0.45px" textLength="71.0" lengthAdjust="spacingAndGlyphs">paleo-slope</text>
<text x="257.6" y="86.9" font-size="13.4" fill="#ffffff" stroke="#ffffff" style="stroke-width:0.45px" textLength="71.5" lengthAdjust="spacingAndGlyphs">Paleo-slope</text>
<text transform="translate(188 176.5) rotate(-20.5)" font-size="13.4" fill="#ffffff" stroke="#ffffff" style="stroke-width:0.45px" textLength="106.0" lengthAdjust="spacingAndGlyphs">Paleo-depression</text>
<text transform="translate(258.8 222) rotate(-75)" font-size="8.2" fill="#ba1c3a" stroke="#ba1c3a" font-weight="bold" style="stroke-width:0" textLength="60.0" lengthAdjust="spacingAndGlyphs">Paleo-channel A</text>
<text transform="translate(309.5 214) rotate(-31)" font-size="8.2" fill="#ba1c3a" stroke="#ba1c3a" font-weight="bold" style="stroke-width:0" textLength="61.0" lengthAdjust="spacingAndGlyphs">Paleo-channel B</text>
<path d="M171.5 57.5L198.2 24.5L190.3 27" stroke="#222" stroke-width="1.1" fill="none"/>
<text x="194.3" y="19.8" font-size="11.2" fill="#1a1a1a" stroke="#1a1a1a">N</text>
<path d="M72.1 343.8V350.3H105.1V343.8" stroke="#222" stroke-width="1" fill="none"/>
<text x="68.6" y="341.7" font-size="12.4" fill="#1a1a1a" stroke="#1a1a1a">0</text>
<text x="98.1" y="341.7" font-size="12.4" fill="#1a1a1a" stroke="#1a1a1a" textLength="34.7" lengthAdjust="spacingAndGlyphs">20 km</text>
<text x="164.9" y="385.2" font-size="13.6" fill="#1a1a1a" stroke="#1a1a1a" textLength="186.4" lengthAdjust="spacingAndGlyphs">(a) Paleogeomorphologic units</text>
</g>

<!-- ===== right legend ===== -->
<g id="rleg">
<rect x="604.5" y="115.5" width="33" height="21" fill="#5b95d3" stroke="#4a4a4a" stroke-width="1.1"/>
<g font-size="7.6" fill="#cdbb62" text-anchor="middle"><text x="621.2" y="122.6">Gentle</text><text x="620.6" y="128.6">paleo-</text><text x="621.2" y="134.6">slope</text></g>
<rect x="604.5" y="184.5" width="33" height="21" fill="#fff" stroke="#4a4a4a" stroke-width="1.1"/>
<g font-size="7.6" fill="#d83848" text-anchor="middle"><text x="621.2" y="191.6">Plain</text><text x="621" y="197.6">of lake</text><text x="621" y="203.8">bottom</text></g>
<rect x="604.5" y="256.5" width="33" height="21" fill="#fff" stroke="#4a4a4a" stroke-width="1.1"/>
<path d="M608 274 C612 268,615 265,621 264 C624 263,627 262,630 261" stroke="#d0202c" stroke-width="1.1" fill="none"/>
<path d="M633.5 259.2 L627.5 259.3 L630 264.5Z" fill="#d0202c"/>
<rect x="604.5" y="300.5" width="33" height="21" fill="#fff" stroke="#4a4a4a" stroke-width="1.1"/>
<path d="M611 313.3 C613 311,615 308.5,617 307.9 C619.5 306.5,621.5 305.3,623.2 305.3 C626 305.3,628.5 306.5,630.3 307.9 C631.5 309,631.5 311,631 311.8 C629 313,626.5 313.6,624.5 314.3 C622.5 315,621 316,619.3 316.3 C617 316.6,614.5 316.2,612.9 315.6 C611.5 315,610.6 314.2,611 313.3Z" stroke="#cfe070" stroke-width="1" stroke-dasharray="2 1.4" fill="none"/>
<rect x="604.5" y="359.5" width="33" height="21" fill="#fff" stroke="#4a4a4a" stroke-width="1.1"/>
<path d="M610.3 369.7 C611 367,612.5 365.5,614.2 364.6 C616 363.6,617.8 363.2,619.3 363.3 C621.5 363.5,624 364.3,625.8 365.2 C628 366.2,630.5 367.2,631.6 368.5 C632.3 369.7,632 371.3,631 372.3 C629.5 374,627.5 375,625.8 375.5 C623 376.3,620.5 376.9,618 376.8 C616 376.7,614.3 376.3,612.9 375.5 C611.3 374.6,610.3 373.5,610.3 372.3Z" stroke="#9848a8" stroke-width="1" stroke-dasharray="2.2 1.5" fill="none"/>
<rect x="604.5" y="418.5" width="33" height="21" fill="#fff" stroke="#4a4a4a" stroke-width="1.1"/>
<g stroke="#2a2a2a" stroke-width="0.8" fill="none"><path d="M614.5 431 C614 426,617 422.5,620.5 422.8 C623.5 423,625 426.5,629.5 428.8"/><path d="M616.3 429.8 C616.3 426.5,618.5 424.2,621 424.6 C623.5 425,624.5 428,628.5 430"/><path d="M614.5 431 C616.5 433,620 432,622 431.5 C624 431.2,625 433,626.3 435"/><path d="M616.3 429.8 C618 431.2,620.5 430.3,622.3 430 C624 429.8,625.5 431.5,626.8 433.5"/></g>
<rect x="604.5" y="464.5" width="33" height="21" fill="#fff" stroke="#4a4a4a" stroke-width="1.1"/>
<path d="M607 478 L613 476.5 L618 476 L624 474 L629 471 L634 470" stroke="#2a2a2a" stroke-width="1" fill="none"/>
<rect x="604.5" y="524.5" width="33" height="21" fill="#cfe7fa" stroke="#4a4a4a" stroke-width="1.1"/>
<rect x="604.5" y="569.5" width="33" height="21" fill="#d9ab94" stroke="#4a4a4a" stroke-width="1.1"/>
<g font-size="13.7" fill="#1a1a1a" stroke="#1a1a1a" text-anchor="middle">
<text x="621.5" y="150.5">Secondary</text>
<text x="621.5" y="164.0">paleogeomorphologic</text>
<text x="621.5" y="177.5">unit</text>
<text x="621.5" y="220.5">Micro-</text>
<text x="621.5" y="234.0">paleogeomorphologic</text>
<text x="621.5" y="247.5">unit</text>
<text x="621.5" y="290.5">Paleo-channel</text>
<text x="621.5" y="335.5">Paleo-ridge of</text>
<text x="621.5" y="349.0">lake bottom</text>
<text x="621.5" y="394.5">Deep depression</text>
<text x="621.5" y="408.0">of lake bottom</text>
<text x="621.5" y="453.0">Slope break belt</text>
<text x="621.5" y="499.5">Paleogeomorphologic</text>
<text x="621.5" y="513.0">profile line</text>
<text x="621.5" y="559.0">Lake</text>
<text x="621.5" y="603.5">Lake basin</text>
<text x="621.5" y="617.0">basement</text>
</g>
</g>

<!-- PROFILE -->
<g id="prof">
<rect x="37.5" y="465" width="383.5" height="93" fill="#cbe6fa"/>
<path d="M37.5 465.3 L47.0 465.0 L58.8 465.3 L66.0 466.6 L73.2 469.5 L83.4 473.8 L90.6 475.2 L97.8 478.4 L103.6 481.0 L110.8 482.2 L118.0 483.6 L121.0 487.5 L123.8 491.0 L129.6 494.7 L135.4 496.9 L140.0 498.4 L150.0 500.4 L160.0 501.6 L166.0 500.8 L173.0 499.6 L176.0 497.4 L182.0 495.6 L190.0 494.6 L200.0 494.6 L211.3 497.3 L220.7 500.0 L226.3 495.4 L230.0 492.6 L233.0 493.5 L235.7 502.0 L239.5 508.5 L243.2 508.5 L248.8 502.0 L254.5 494.5 L260.0 492.0 L264.8 493.0 L271.4 501.0 L277.0 508.5 L280.8 510.4 L284.5 504.0 L289.2 496.3 L294.0 491.6 L298.6 490.7 L304.7 494.2 L312.8 495.6 L321.0 498.7 L329.0 502.7 L337.0 504.0 L345.0 500.7 L353.3 496.7 L361.4 492.6 L373.4 485.6 L377.7 483.7 L386.4 483.0 L392.1 478.0 L399.4 474.0 L402.2 472.7 L405.1 471.0 L407.8 469.6 L410.4 467.6 L412.9 467.4 L415.4 467.1 L418.0 466.2 L420.5 465.3 L423.5 466.3 L426.5 466.2 L429.6 466.7 L432.6 468.5 L435.7 469.2 L438.2 467.9 L440.7 466.6 L443.2 466.4 L445.8 465.2 L448.3 464.8 L450.8 463.4 L453.4 462.1 L455.9 461.9 L458.4 460.8 L461.0 460.4 L463.5 459.4 L466.0 458.5 L468.5 456.6 L471.0 456.3 L473.6 454.9 L476.1 454.0 L478.6 453.9 L481.2 452.3 L484.2 451.4 L487.2 449.3 L490.3 448.9 L493.3 447.2 L496.0 445.7 L498.7 445.4 L501.4 444.2 L504.1 442.3 L506.8 440.8 L509.5 440.2 L511.0 439.6 L511 558 L37.5 558Z" fill="#dcae97"/>
<path d="M37.5 465.3 L47.0 465.0 L58.8 465.3 L66.0 466.6 L73.2 469.5 L83.4 473.8 L90.6 475.2 L97.8 478.4 L103.6 481.0 L110.8 482.2 L118.0 483.6 L121.0 487.5 L123.8 491.0 L129.6 494.7 L135.4 496.9 L140.0 498.4 L150.0 500.4 L160.0 501.6 L166.0 500.8 L173.0 499.6 L176.0 497.4 L182.0 495.6 L190.0 494.6 L200.0 494.6 L211.3 497.3 L220.7 500.0 L226.3 495.4 L230.0 492.6 L233.0 493.5 L235.7 502.0 L239.5 508.5 L243.2 508.5 L248.8 502.0 L254.5 494.5 L260.0 492.0 L264.8 493.0 L271.4 501.0 L277.0 508.5 L280.8 510.4 L284.5 504.0 L289.2 496.3 L294.0 491.6 L298.6 490.7 L304.7 494.2 L312.8 495.6 L321.0 498.7 L329.0 502.7 L337.0 504.0 L345.0 500.7 L353.3 496.7 L361.4 492.6 L373.4 485.6 L377.7 483.7 L386.4 483.0 L392.1 478.0 L399.4 474.0 L402.2 472.7 L405.1 471.0 L407.8 469.6 L410.4 467.6 L412.9 467.4 L415.4 467.1 L418.0 466.2 L420.5 465.3 L423.5 466.3 L426.5 466.2 L429.6 466.7 L432.6 468.5 L435.7 469.2 L438.2 467.9 L440.7 466.6 L443.2 466.4 L445.8 465.2 L448.3 464.8 L450.8 463.4 L453.4 462.1 L455.9 461.9 L458.4 460.8 L461.0 460.4 L463.5 459.4 L466.0 458.5 L468.5 456.6 L471.0 456.3 L473.6 454.9 L476.1 454.0 L478.6 453.9 L481.2 452.3 L484.2 451.4 L487.2 449.3 L490.3 448.9 L493.3 447.2 L496.0 445.7 L498.7 445.4 L501.4 444.2 L504.1 442.3 L506.8 440.8 L509.5 440.2 L511.0 439.6" fill="none" stroke="#3b302a" stroke-width="1.3" stroke-linejoin="round"/>
<g stroke="#2a2a2a" stroke-width="1.1" fill="none">
<path d="M37.5 416.5V558.2M511 415.5V558.2M37 558.2H511.5"/>
<path d="M37.5 439.5H54.5M101.4 439.5H184M301.6 439.5H415.6M467.8 439.5H511"/>
<path d="M118.3 435V444.5M135.2 435V444.5M351.5 434.5V444.5M377 434.5V444.5"/>
<path d="M455.5 419.3H482.8L476.1 413.6"/>
<path d="M118.8 483.6V497.2M134.7 483.6V497.6M352 483.7V495.5M377.4 483.7V496.7"/>
<path d="M232.9 493.5L275 481.5M264.8 493L282.7 481.5M294.9 481.5V490.7"/>
<path d="M127.0 554.5V558.2"/>
<path d="M143.5 554.5V558.2"/>
<path d="M154.2 554.5V558.2"/>
<path d="M193.5 554.5V558.2"/>
<path d="M220.6 554.5V558.2"/>
<path d="M256.5 554.5V558.2"/>
<path d="M277.9 554.5V558.2"/>
<path d="M336.7 554.5V558.2"/>
<path d="M389.3 554.5V558.2"/>
<path d="M413.5 554.5V558.2"/>
</g>
<g stroke="#4a9bd9" stroke-width="1.3" stroke-dasharray="3.9 5.7" fill="none">
<path d="M40 465H419"/>
<path d="M119 483.6H139M241 483.6H378"/>
</g>
<path d="M93.8 552.8H99.8L96.8 557.8Z" fill="#1a1a1a"/>
<path d="M165.3 552.8H171.3L168.3 557.8Z" fill="#1a1a1a"/>
<path d="M391.5 552.8H397.5L394.5 557.8Z" fill="#1a1a1a"/>
<path d="M460.0 552.8H466.0L463.0 557.8Z" fill="#1a1a1a"/>
<path d="M241.3 552.8H247.3L244.3 557.8Z" fill="#d01a1a"/>
<g stroke="#2a2a2a" stroke-width="1.1" fill="none">
<path d="M46.2 582.8H79.5M46.2 642.6H196.5M79.5 582.8V672.3M79.5 582.8L196 642.6V672.3"/>
<path d="M62 582.8V596.6M62 629V642.6"/>
<path d="M79.5 658H104M169 658H196"/>
<path d="M176 632.3A22.5 22.5 0 0 0 173.5 642.6"/>
<path d="M342.7 630.4L465.4 588.7H498.5M342.7 630.4H498.5M465.4 588.7V660M342.7 630.4V660"/>
<path d="M482.4 588.7V595M482.4 624.2V630.4"/>
<path d="M342.7 646.6H371M437 646.6H465.4"/>
<path d="M371.6 620.6A30.5 30.5 0 0 1 373.2 630.4"/>
</g>
<path d="M123.8 526L112 599.6M368.3 524.2L384.4 616" stroke="#e0202a" stroke-width="1.1"/>
<text x="41.3" y="407.5" font-size="12.5" fill="#1a1a1a" stroke="#1a1a1a">A</text>
<text x="493.4" y="407.8" font-size="12.5" fill="#1a1a1a" stroke="#1a1a1a">A'</text>
<text x="486.0" y="424.3" font-size="12.5" fill="#1a1a1a" stroke="#1a1a1a" textLength="16.8" lengthAdjust="spacingAndGlyphs">NE</text>
<text x="58.0" y="439.3" font-size="13.6" fill="#1a1a1a" stroke="#1a1a1a" textLength="40.5" lengthAdjust="spacingAndGlyphs">Gentle</text>
<text x="42.4" y="452.8" font-size="13.6" fill="#1a1a1a" stroke="#1a1a1a" textLength="71.0" lengthAdjust="spacingAndGlyphs">paleo-slope</text>
<text x="107.0" y="414.2" font-size="13.2" fill="#1a1a1a" stroke="#1a1a1a" textLength="35.8" lengthAdjust="spacingAndGlyphs">Paleo-</text>
<text x="110.8" y="428.2" font-size="13.2" fill="#1a1a1a" stroke="#1a1a1a" textLength="32.0" lengthAdjust="spacingAndGlyphs">slope</text>
<text x="188.5" y="443.6" font-size="13.6" fill="#1a1a1a" stroke="#1a1a1a" textLength="108.5" lengthAdjust="spacingAndGlyphs">Paleo-depression</text>
<text x="344.8" y="414.2" font-size="13.2" fill="#1a1a1a" stroke="#1a1a1a" textLength="37.5" lengthAdjust="spacingAndGlyphs">Paleo-</text>
<text x="348.0" y="428.4" font-size="13.2" fill="#1a1a1a" stroke="#1a1a1a" textLength="32.5" lengthAdjust="spacingAndGlyphs">slope</text>
<text x="423.0" y="439.0" font-size="13.6" fill="#1a1a1a" stroke="#1a1a1a" textLength="40.0" lengthAdjust="spacingAndGlyphs">Gentle</text>
<text x="406.5" y="452.8" font-size="13.6" fill="#1a1a1a" stroke="#1a1a1a" textLength="72.0" lengthAdjust="spacingAndGlyphs">paleo-slope</text>
<text x="202.0" y="461.6" font-size="13.6" fill="#3a96d6" stroke="#3a96d6" textLength="61.5" lengthAdjust="spacingAndGlyphs">Lake level</text>
<text x="139.7" y="488.6" font-size="13.0" fill="#3a8ed4" stroke="#3a8ed4" textLength="100.2" lengthAdjust="spacingAndGlyphs">Storm wave base</text>
<text x="216.8" y="478.5" font-size="13.6" fill="#1a1a1a" stroke="#1a1a1a" textLength="158.8" lengthAdjust="spacingAndGlyphs">Paleo-ridge of lake bottom</text>
<text x="109.3" y="509.4" font-size="13.4" fill="#1a1a1a" stroke="#1a1a1a" textLength="34.4" lengthAdjust="spacingAndGlyphs">Slope</text>
<text x="96.3" y="520.4" font-size="13.4" fill="#1a1a1a" stroke="#1a1a1a" textLength="60.5" lengthAdjust="spacingAndGlyphs">break belt</text>
<text x="358.9" y="506.8" font-size="13.4" fill="#1a1a1a" stroke="#1a1a1a" textLength="34.0" lengthAdjust="spacingAndGlyphs">Slope</text>
<text x="346.0" y="518.4" font-size="13.4" fill="#1a1a1a" stroke="#1a1a1a" textLength="60.0" lengthAdjust="spacingAndGlyphs">break belt</text>
<text x="221.7" y="520.6" font-size="13.2" fill="#1a1a1a" stroke="#1a1a1a" textLength="39.4" lengthAdjust="spacingAndGlyphs">Paleo-</text>
<text x="211.9" y="532.6" font-size="13.2" fill="#1a1a1a" stroke="#1a1a1a" textLength="59.6" lengthAdjust="spacingAndGlyphs">channel A</text>
<text x="292.8" y="520.6" font-size="13.2" fill="#1a1a1a" stroke="#1a1a1a" textLength="39.4" lengthAdjust="spacingAndGlyphs">Paleo-</text>
<text x="283.0" y="532.6" font-size="13.2" fill="#1a1a1a" stroke="#1a1a1a" textLength="59.0" lengthAdjust="spacingAndGlyphs">channel B</text>
<text x="59.9" y="549.8" font-size="13.4" fill="#1a1a1a" stroke="#1a1a1a" textLength="57.5" lengthAdjust="spacingAndGlyphs">Chongxin</text>
<text x="129.5" y="549.8" font-size="13.4" fill="#1a1a1a" stroke="#1a1a1a" textLength="58.7" lengthAdjust="spacingAndGlyphs">Qingyang</text>
<text x="195.0" y="549.8" font-size="13.4" fill="#1a1a1a" stroke="#1a1a1a" textLength="98.8" lengthAdjust="spacingAndGlyphs">Qingcheng oilfield</text>
<text x="373.0" y="549.8" font-size="13.4" fill="#1a1a1a" stroke="#1a1a1a" textLength="40.4" lengthAdjust="spacingAndGlyphs">Zhidan</text>
<text x="445.0" y="549.8" font-size="13.4" fill="#1a1a1a" stroke="#1a1a1a" textLength="34.0" lengthAdjust="spacingAndGlyphs">Ansai</text>
<text transform="translate(133.4 562.5) rotate(-90)" font-size="13.4" fill="#1a1a1a" stroke="#1a1a1a" text-anchor="end">Zh161</text>
<text transform="translate(147.8 562.5) rotate(-90)" font-size="13.4" fill="#1a1a1a" stroke="#1a1a1a" text-anchor="end">Zh118</text>
<text transform="translate(159.4 562.5) rotate(-90)" font-size="13.4" fill="#1a1a1a" stroke="#1a1a1a" text-anchor="end">Zh284</text>
<text transform="translate(199.8 562.5) rotate(-90)" font-size="13.4" fill="#1a1a1a" stroke="#1a1a1a" text-anchor="end">Zh587</text>
<text transform="translate(225.8 562.5) rotate(-90)" font-size="13.4" fill="#1a1a1a" stroke="#1a1a1a" text-anchor="end">YJ1</text>
<text transform="translate(250.4 562.5) rotate(-90)" font-size="13.4" fill="#1a1a1a" stroke="#1a1a1a" text-anchor="end">X355</text>
<text transform="translate(262.0 562.5) rotate(-90)" font-size="13.4" fill="#1a1a1a" stroke="#1a1a1a" text-anchor="end">B522</text>
<text transform="translate(283.6 562.5) rotate(-90)" font-size="13.4" fill="#1a1a1a" stroke="#1a1a1a" text-anchor="end">Sh139</text>
<text transform="translate(342.7 562.5) rotate(-90)" font-size="13.4" fill="#1a1a1a" stroke="#1a1a1a" text-anchor="end">W100</text>
<text transform="translate(397.4 562.5) rotate(-90)" font-size="13.4" fill="#1a1a1a" stroke="#1a1a1a" text-anchor="end">G90</text>
<text transform="translate(419.6 562.5) rotate(-90)" font-size="13.4" fill="#1a1a1a" stroke="#1a1a1a" text-anchor="end">L41</text>
<text x="11.6" y="607.0" font-size="13.4" fill="#1a1a1a" stroke="#1a1a1a" textLength="59.2" lengthAdjust="spacingAndGlyphs">Elevation</text>
<text x="11.6" y="621.0" font-size="13.4" fill="#1a1a1a" stroke="#1a1a1a" textLength="60.0" lengthAdjust="spacingAndGlyphs">difference</text>
<text x="24.6" y="634.6" font-size="13.4" fill="#1a1a1a" stroke="#1a1a1a" textLength="34.4" lengthAdjust="spacingAndGlyphs">108 m</text>
<text x="134.6" y="640.0" font-size="13.2" fill="#1a1a1a" stroke="#1a1a1a" textLength="32.0" lengthAdjust="spacingAndGlyphs">1.24°</text>
<text x="106.0" y="656.0" font-size="13.4" fill="#1a1a1a" stroke="#1a1a1a" textLength="61.0" lengthAdjust="spacingAndGlyphs">Horizontal</text>
<text x="112.0" y="672.0" font-size="13.4" fill="#1a1a1a" stroke="#1a1a1a" textLength="50.0" lengthAdjust="spacingAndGlyphs">distance</text>
<text x="114.0" y="687.6" font-size="13.4" fill="#1a1a1a" stroke="#1a1a1a" textLength="46.7" lengthAdjust="spacingAndGlyphs">5 121 m</text>
<text x="485.0" y="609.0" font-size="13.4" fill="#1a1a1a" stroke="#1a1a1a" textLength="57.0" lengthAdjust="spacingAndGlyphs">Elevation</text>
<text x="467.0" y="622.0" font-size="13.4" fill="#1a1a1a" stroke="#1a1a1a" textLength="93.0" lengthAdjust="spacingAndGlyphs">difference 85 m</text>
<text x="376.0" y="629.5" font-size="13.2" fill="#1a1a1a" stroke="#1a1a1a" textLength="32.7" lengthAdjust="spacingAndGlyphs">0.88°</text>
<text x="373.0" y="644.0" font-size="13.4" fill="#1a1a1a" stroke="#1a1a1a" textLength="62.8" lengthAdjust="spacingAndGlyphs">Horizontal</text>
<text x="379.0" y="659.5" font-size="13.4" fill="#1a1a1a" stroke="#1a1a1a" textLength="51.0" lengthAdjust="spacingAndGlyphs">distance</text>
<text x="381.0" y="675.6" font-size="13.4" fill="#1a1a1a" stroke="#1a1a1a" textLength="46.7" lengthAdjust="spacingAndGlyphs">5 533 m</text>
<text x="176.3" y="691.6" font-size="13.6" fill="#1a1a1a" stroke="#1a1a1a" textLength="194.7" lengthAdjust="spacingAndGlyphs">(b) Paleogeomorphologic profile</text>
</g>

</svg>
</body></html>
